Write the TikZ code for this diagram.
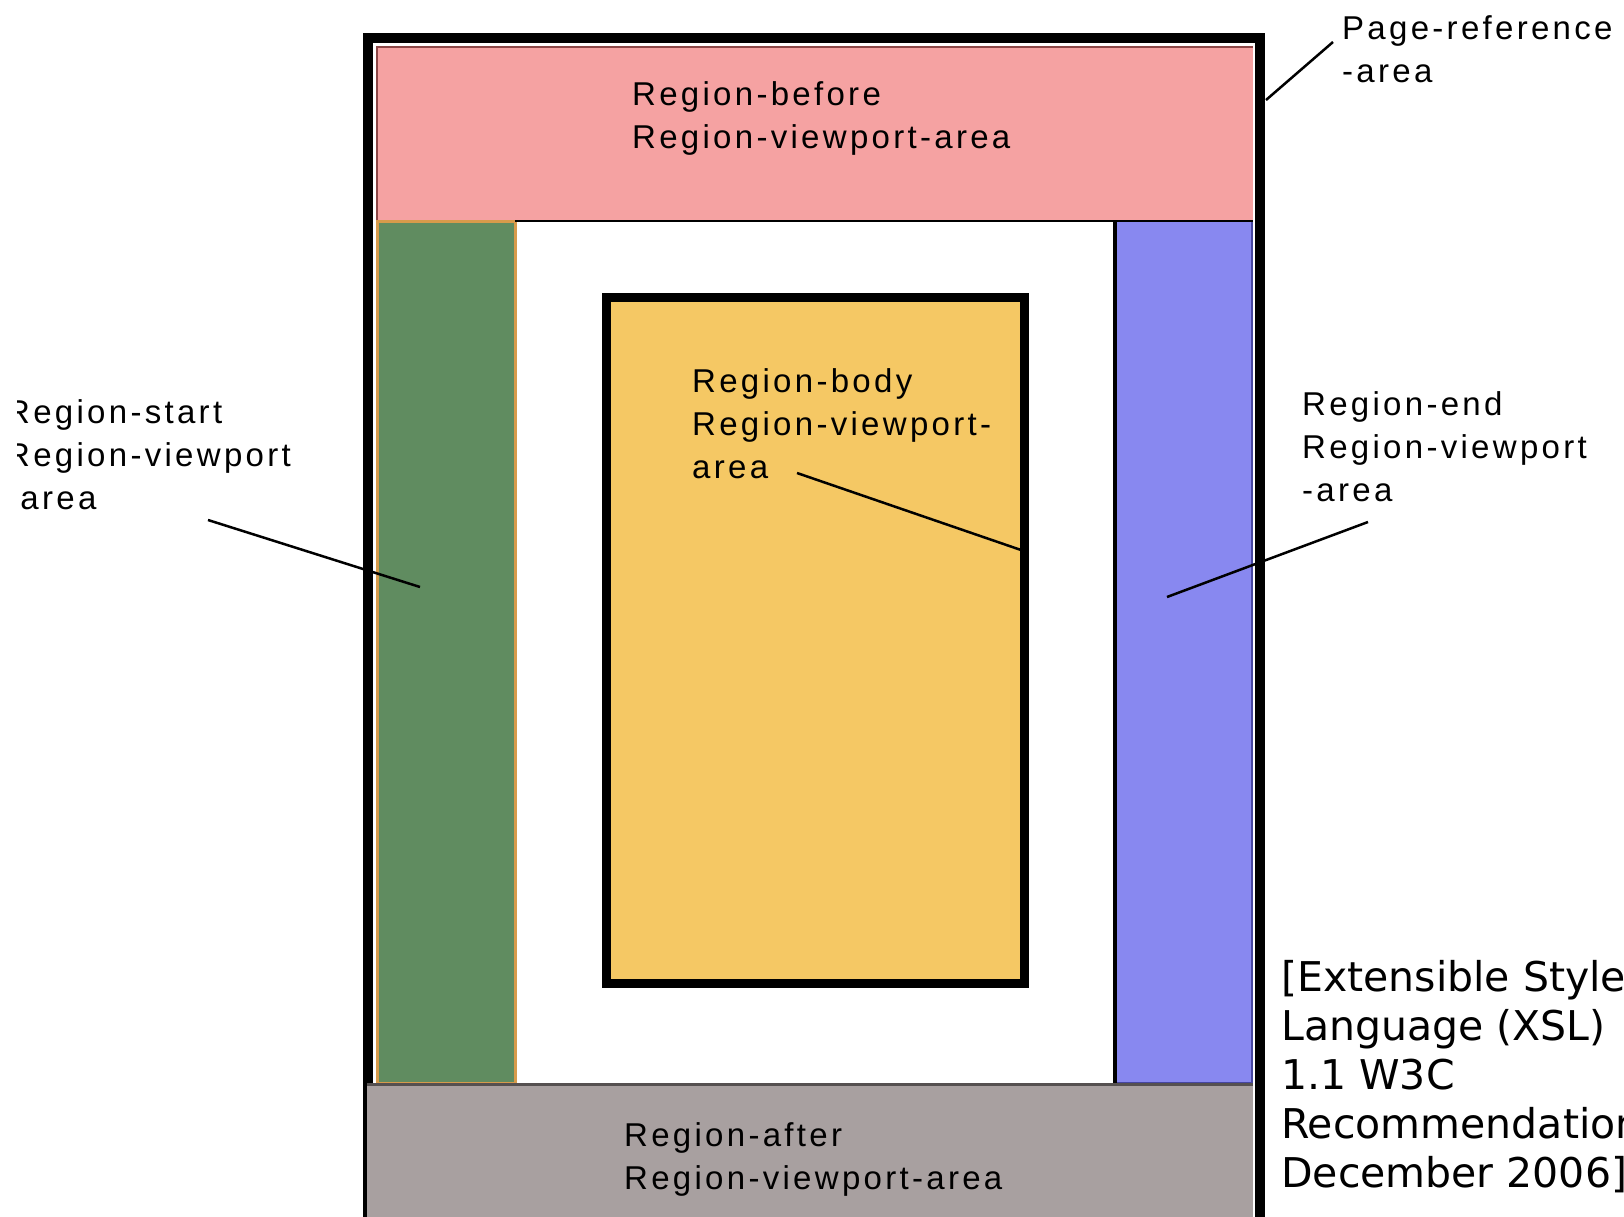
\documentclass[tikz,border=0pt]{standalone}
\usepackage{fontspec}
\newfontfamily\regfont{Liberation Sans}[LetterSpace=10]
\newfontfamily\notefont{DejaVu Sans}
\definecolor{pinkfill}{RGB}{245,162,162}
\definecolor{pinkedge}{RGB}{140,70,70}
\definecolor{greenfill}{RGB}{96,140,96}
\definecolor{orangeedge}{RGB}{215,155,75}
\definecolor{bluefill}{RGB}{136,136,240}
\definecolor{blueedge}{RGB}{70,70,160}
\definecolor{yellowfill}{RGB}{245,200,100}
\definecolor{grayfill}{RGB}{168,160,160}
\definecolor{grayedge}{RGB}{85,80,80}
\begin{document}
\begin{tikzpicture}[x=1pt,y=-1pt,
  lbl/.style={anchor=north west, inner sep=0pt, align=left,
    font=\regfont\fontsize{33}{43}\selectfont},
  note/.style={anchor=north west, inner sep=0pt, align=left,
    font=\notefont\fontsize{41}{49}\selectfont},
  leader/.style={draw=black, line width=2.5pt}]
\useasboundingbox (0,0) rectangle (1624,1217);
\clip (0,0) rectangle (1624,1217);
\fill[white] (0,0) rectangle (1624,1217);
% region-before
\fill[pinkfill] (376,46) rectangle (1253,220);
\draw[pinkedge, line width=2pt] (377,1083) -- (377,47) -- (1253,47);
% region-start
\filldraw[fill=greenfill, draw=orangeedge, line width=3pt] (377,221) rectangle (515,1083);
% white area top line
\draw[black, line width=2.5pt] (515,221) -- (1253,221);
% region-end
\fill[bluefill] (1115,222) rectangle (1253,1083);
\draw[blueedge, line width=2pt] (1252,222) -- (1252,1083) -- (1115,1083);
\draw[black, line width=4pt] (1115,220) -- (1115,1083);
% page reference area border
\draw[black, line width=10pt] (368,38) rectangle (1260,1222);
% region-after
\fill[grayfill] (367,1084) rectangle (1253,1217);
\draw[grayedge, line width=3pt] (367,1084) -- (1253,1084);
% region-body
\filldraw[fill=yellowfill, draw=black, line width=9pt] (606,297) rectangle (1024,983);
% labels
\node[lbl] (pageref) at (1342,15) {Page-reference\\-area};
\node[lbl] (before) at (632,81) {Region-before\\Region-viewport-area};
\node[lbl] (body) at (692,368) {Region-body\\Region-viewport-\\area};
\begin{scope}
\clip (17,380) rectangle (360,540);
\node[lbl] (start) at (6,399) {Region-start\\Region-viewport\\-area};
\end{scope}
\node[lbl] (endlbl) at (1302,391) {Region-end\\Region-viewport\\-area};
\node[lbl] (after) at (624,1122) {Region-after\\Region-viewport-area};
\node[note] (cite) at (1281,960) {[Extensible Style\\Language (XSL)\\1.1 W3C\\Recommendation\\December 2006]};
% leader lines
\coordinate (prA) at (1333,42);
\coordinate (prB) at (1266,100);
\coordinate (stA) at (208,520);
\coordinate (stB) at (420,587);
\coordinate (bdA) at (797,473);
\coordinate (bdB) at (1021,550);
\coordinate (enA) at (1368,522);
\coordinate (enB) at (1167,597);
\draw[leader] (prA) -- (prB);
\draw[leader] (stA) -- (stB);
\draw[leader] (bdA) -- (bdB);
\draw[leader] (enA) -- (enB);
\end{tikzpicture}
\end{document}
